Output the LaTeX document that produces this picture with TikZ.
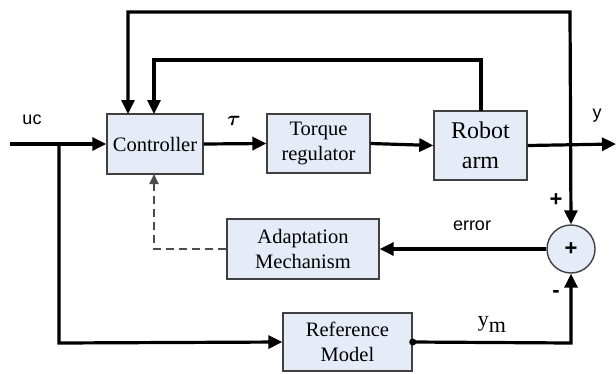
\documentclass[tikz,border=0pt]{standalone}
\usepackage{amsmath}
\usepackage{fontspec}
\setmainfont{Liberation Serif}
\newfontfamily\sansf{Liberation Sans}
\usetikzlibrary{arrows.meta,positioning}
\definecolor{boxfill}{HTML}{E6ECF7}
\definecolor{boxline}{HTML}{404040}
\tikzset{
  blk/.style={draw=boxline, line width=1.4pt, fill=boxfill, align=center, inner sep=0pt, font=\fontsize{20.5}{25}\selectfont},
  sig/.style={line width=3.2pt, -{Triangle[length=14pt,width=13pt]}},
  dsig/.style={line width=2pt, draw=black!70, dash pattern=on 8pt off 5pt, -{Triangle[length=10pt,width=9pt]}},
  lab/.style={font=\sansf\fontsize{18}{20}\selectfont, inner sep=0pt},
  pm/.style={font=\sansf\bfseries\fontsize{22}{22}\selectfont, inner sep=0pt},
}
\begin{document}
\begin{tikzpicture}[x=1pt,y=-1pt]
\useasboundingbox (0,0) rectangle (616,373);
% blocks
\node[blk, minimum width=96pt, minimum height=60pt] (ctrl) at (155,144) {Controller};
\node[blk, minimum width=103pt, minimum height=59pt] (torq) at (318.5,143.5) {Torque\\regulator};
\node[blk, minimum width=93pt, minimum height=69pt, font=\fontsize{24}{30}\selectfont] (robot) at (480.5,145.5) {Robot\\arm};
\node[blk, minimum width=152pt, minimum height=60pt] (adapt) at (303,249) {Adaptation\\Mechanism};
\node[blk, minimum width=129pt, minimum height=58pt] (ref) at (347.5,342) {Reference\\Model};
\node[draw=boxline, line width=1.4pt, fill=boxfill, circle, minimum size=48pt, inner sep=0pt, font=\sansf\bfseries\fontsize{22}{22}\selectfont] (sum) at (571,249) {+};
% coordinates
\coordinate (in) at (10,144);
\coordinate (br) at (59,144);
\coordinate (out) at (616,144);
\coordinate (c1) at (128,114);
\coordinate (c2) at (154,114);
\coordinate (r1) at (481,111);
\coordinate (cb) at (154,174);
% main path
\draw[sig] (in) -- (ctrl.west);
\draw[sig] (ctrl.east) -- (torq.west);
\draw[sig] (torq.east) -- (robot.west);
\draw[sig] (robot.east) -- (out);
% outer feedback
\draw[line width=3.2pt, {Triangle[length=14pt,width=13pt]}-{Triangle[length=14pt,width=13pt]}] (c1) -- (128,12) -- (570,12) -- (sum.north);
% inner feedback
\draw[sig] (r1) -- (481,60) -- (154,60) -- (c2);
% error
\draw[sig] (sum.west) -- (adapt.east);
% adaptation dashed
\draw[dsig] (adapt.west) -- (154,249) -- (cb);
% reference branch
\draw[sig] (br) -- (59,343) -- (ref.west);
\draw[sig] (ref.east) -- (571,343) -- (sum.south);
\fill (ref.east) circle (3.5pt);
% labels
\node[lab] (luc) at (32,120) {uc};
\node[inner sep=0pt, font=\fontsize{20}{20}\selectfont] (ltau) at (234,121) {$\boldsymbol{\tau}$};
\node[lab] (ly) at (597,116) {y};
\node[lab] (lerr) at (472,226) {error};
\node[pm] (lplus) at (556,200) {+};
\node[pm] (lminus) at (556,294) {-};
\node[inner sep=0pt, font=\fontsize{22}{22}\selectfont] (lym) at (492,324) {y\raisebox{-6pt}{m}};
\end{tikzpicture}
\end{document}
